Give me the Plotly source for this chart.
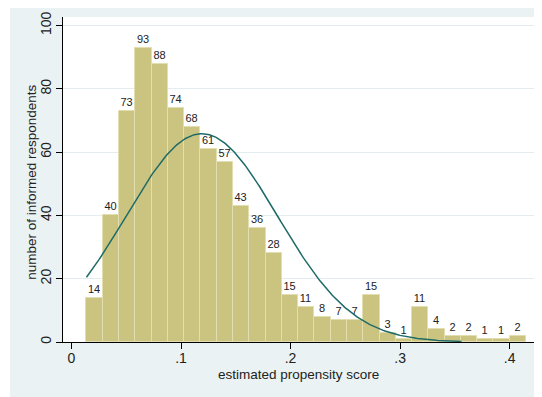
import numpy as np
import plotly.graph_objects as go

# Histogram data
counts = [14, 40, 73, 93, 88, 74, 68, 61, 57, 43, 36, 28, 15, 11, 8, 7, 7,
          15, 3, 1, 11, 4, 2, 2, 1, 1, 2]
bin_start = 0.0137
bin_width = 0.01486

# Normal overlay parameters
norm_mean = 0.119
norm_sd = 0.0689
curve_end = 0.356

x_ticks = [0, 0.1, 0.2, 0.3, 0.4]
x_tick_labels = ["0", ".1", ".2", ".3", ".4"]
y_ticks = [0, 20, 40, 60, 80, 100]

x_title = "estimated propensity score"
y_title = "number of informed respondents"

centers = [bin_start + (i + 0.5) * bin_width for i in range(len(counts))]
n_total = sum(counts)

xs = np.linspace(bin_start, curve_end, 300)
ys = n_total * bin_width * np.exp(-0.5 * ((xs - norm_mean) / norm_sd) ** 2) / (norm_sd * np.sqrt(2 * np.pi))

FONT = "Liberation Sans, Arial, sans-serif"
BG = "#EAF2F3"

# page body has an 8px margin; figure is sized/offset to compensate
fig = go.Figure()
fig.add_trace(go.Bar(
    x=centers, y=counts, width=bin_width,
    marker=dict(color="#CBC481", line=dict(color="#E2DEAF", width=1)),
    text=[str(c) for c in counts], textposition="outside",
    textfont=dict(family=FONT, size=11, color="#222"),
    cliponaxis=False, showlegend=False, hoverinfo="skip",
))
fig.add_trace(go.Scatter(
    x=xs, y=ys, mode="lines",
    line=dict(color="#1E6B67", width=1.5),
    showlegend=False, hoverinfo="skip",
))

fig.update_layout(
    width=534, height=389,
    margin=dict(l=55, r=8, t=9, b=55),
    paper_bgcolor=BG, plot_bgcolor="white",
    font=dict(family=FONT, size=14, color="#222"),
    bargap=0,
    shapes=[
        dict(type="rect", xref="paper", yref="paper", x0=-0.2, x1=-0.1125, y0=-0.3, y1=1.2,
             fillcolor="white", line=dict(width=0), layer="above"),
    ],
    annotations=[
        dict(text=x_title, xref="paper", yref="paper", x=0.5, y=-0.0985,
             xanchor="center", yanchor="middle", showarrow=False,
             font=dict(size=13.5, color="#222")),
        dict(text=y_title, xref="paper", yref="paper", x=-0.0658, y=0.49,
             xanchor="center", yanchor="middle", showarrow=False, textangle=-90,
             font=dict(size=13.5, color="#222")),
    ],
    xaxis=dict(
        range=[-0.0077, 0.4222], tickvals=x_ticks, ticktext=x_tick_labels,
        ticks="outside", ticklen=6, tickcolor="black", showline=True, linecolor="black",
        linewidth=1, showgrid=False, zeroline=False, automargin=False,
        tickfont=dict(size=14), ticklabelstandoff=-3,
    ),
    yaxis=dict(
        range=[0, 102.7], tickvals=y_ticks, tickangle=-90,
        ticks="outside", ticklen=6, tickcolor="black", showline=True, linecolor="black",
        linewidth=1, showgrid=True, gridcolor="#E3ECEE", gridwidth=1, zeroline=False,
        automargin=False,
        tickfont=dict(size=14), ticklabelstandoff=-1,
    ),
)

fig.write_html("out.html")
